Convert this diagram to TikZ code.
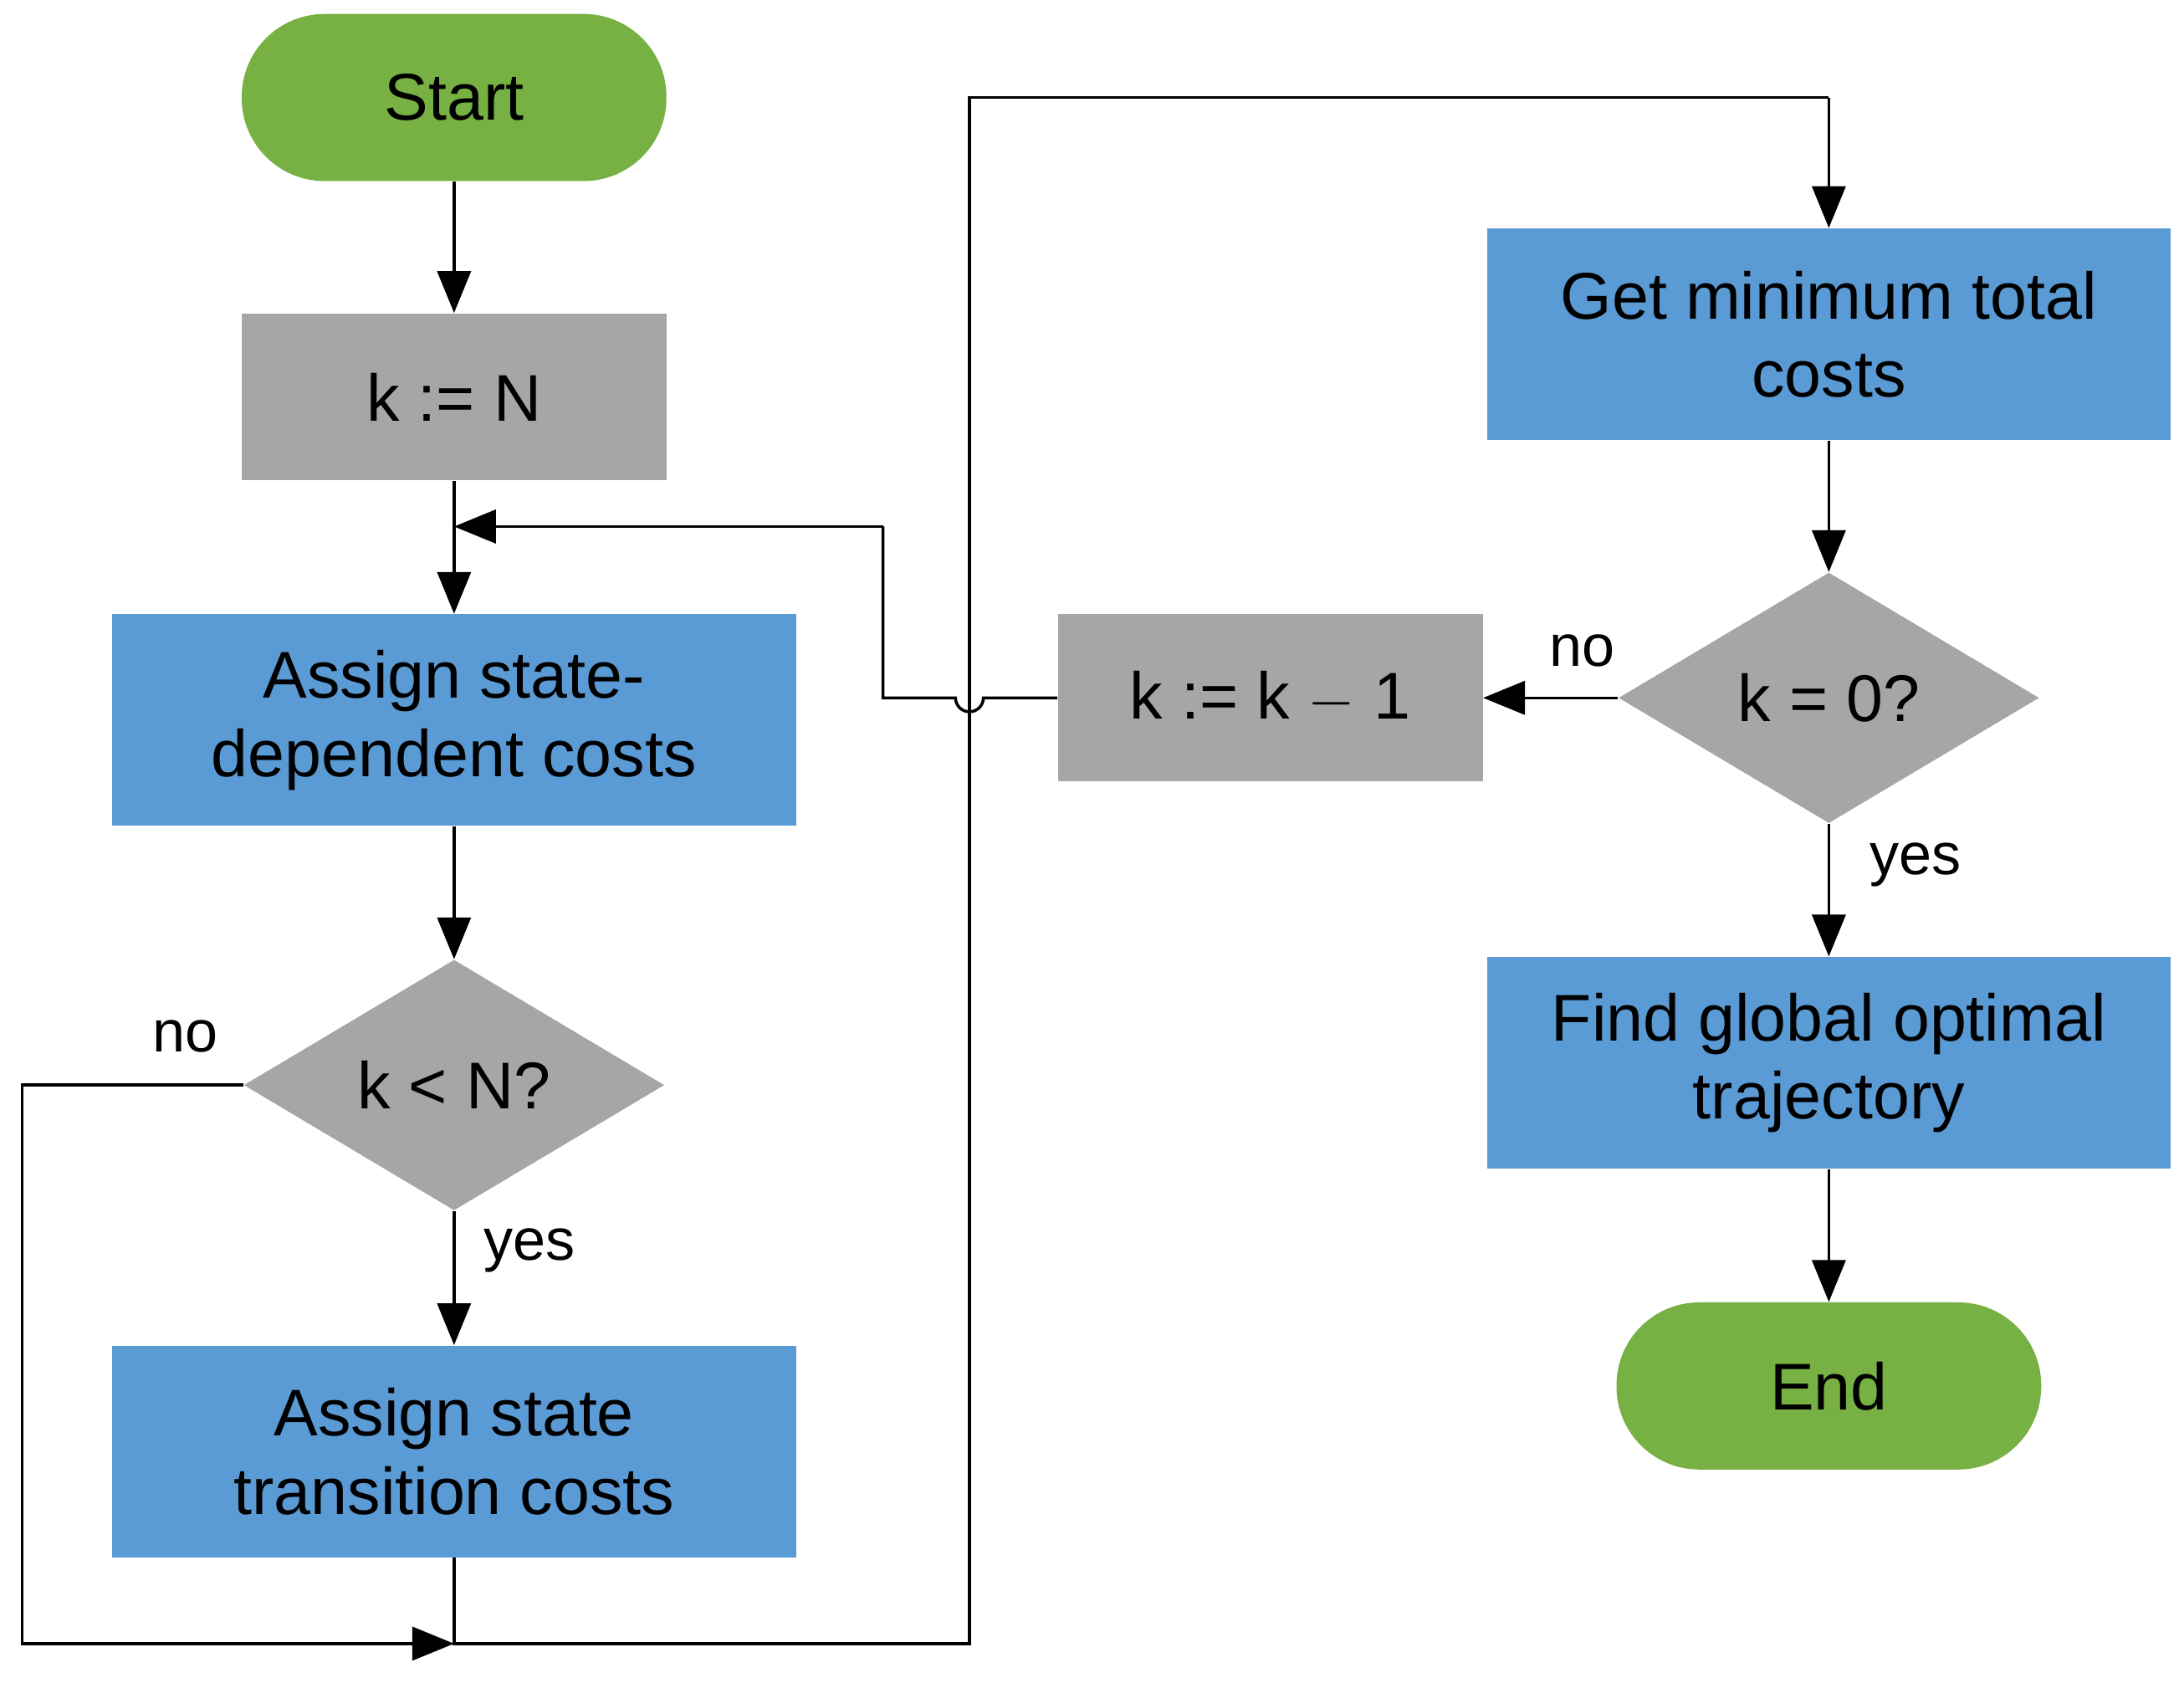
\documentclass[tikz,border=0pt]{standalone}
\usepackage{fontspec}
\setmainfont{Liberation Sans}
\usetikzlibrary{shapes.geometric,arrows.meta}
\definecolor{cgreen}{HTML}{77B043}
\definecolor{cblue}{HTML}{5B9BD5}
\definecolor{cgray}{HTML}{A6A6A6}
\begin{document}
\begin{tikzpicture}[x=0.02cm,y=-0.02cm,
  every node/.style={font=\fontsize{27}{32}\selectfont, align=center, inner sep=0},
  term/.style={fill=cgreen, rounded corners=1.19cm, minimum width=6.1cm, minimum height=2.4cm},
  gbox/.style={fill=cgray, minimum width=6.1cm, minimum height=2.4cm},
  bbox/.style={fill=cblue, minimum width=9.82cm, minimum height=3.04cm},
  dec/.style={fill=cgray, diamond, minimum width=6.04cm, minimum height=3.6cm, aspect=1.68},
  lbl/.style={font=\fontsize{24}{28}\selectfont},
  con/.style={line width=1.2pt},
  arr/.style={con, -{Triangle[length=0.6cm,width=0.48cm]}}]
\useasboundingbox (0,0) rectangle (1568,1208);
\node[term] (start) at (326,70) {Start};
\node[gbox] (kN) at (326,285) {k := N};
\node[bbox] (asd) at (326,517) {Assign state-\\dependent costs};
\node[dec] (d1) at (326,779) {k < N?};
\node[bbox] (ast) at (326,1042) {Assign state\\transition costs};
\node[bbox] (gmt) at (1313,240) {Get minimum total\\costs};
\node[dec] (d2) at (1313,501) {k = 0?};
\node[gbox] (km) at (912,501) {k := k $-$ 1};
\node[bbox] (fgo) at (1313,763) {Find global optimal\\trajectory};
\node[term] (end) at (1313,995) {End};
\node[lbl] (no1) at (133,744) {no};
\node[lbl] (yes1) at (380,898) {yes};
\node[lbl] (no2) at (1136,467) {no};
\node[lbl] (yes2) at (1375,621) {yes};
\coordinate (mj) at (326,378);
\coordinate (mb) at (326,1180);
\draw[arr] (start) -- (kN);
\draw[arr] (kN) -- (asd);
\draw[arr] (asd) -- (d1);
\draw[arr] (d1) -- (ast);
\draw[con] (ast) -- (mb) -- (696,1180) -- (696,70) -- (1313,70);
\draw[arr] (1313,70) -- (gmt);
\draw[arr] (d1.west) -- (16,779) -- (16,1180) -- (mb);
\draw[arr] (gmt) -- (d2);
\draw[arr] (d2) -- (km);
\draw[arr] (d2) -- (fgo);
\draw[arr] (fgo) -- (end);
\draw[con] (km.west) -- (706,501) arc[start angle=0,end angle=180,radius=10] -- (634,501) -- (634,378);
\draw[arr] (634,378) -- (mj);
\end{tikzpicture}
\end{document}
